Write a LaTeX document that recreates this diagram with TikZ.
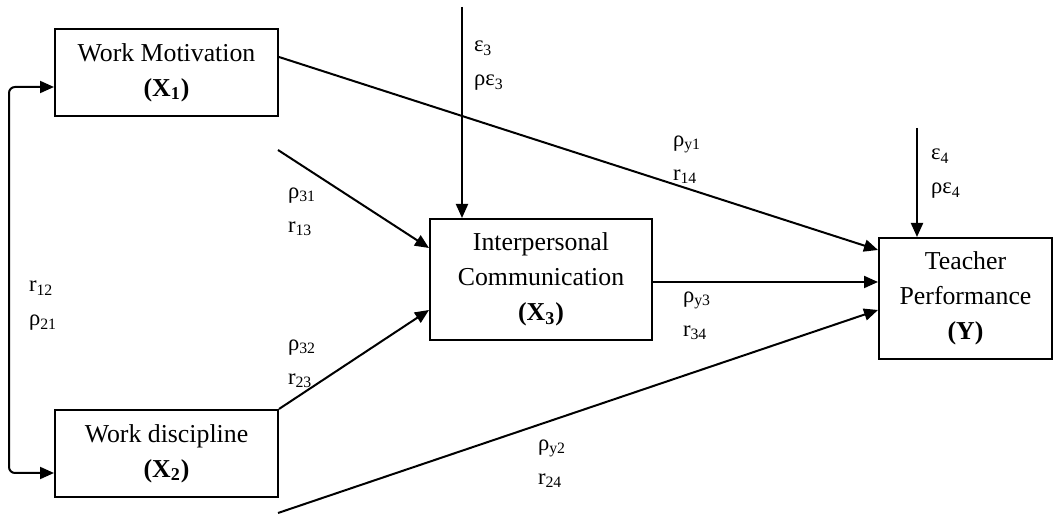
\documentclass[tikz,border=0pt]{standalone}
\usepackage{fontspec}
\setmainfont{Liberation Serif}
\usepackage{tikz}
\usetikzlibrary{arrows.meta}

\begin{document}
\begin{tikzpicture}[
            x = 0.5pt, y = -0.5pt, % one unit is one pixel of the layout
            > = {Triangle[length=7pt,width=6pt]}, % arrow head style
            line width = 1pt, % line style
            every node/.style = {font=\fontsize{12.9}{17.5}\selectfont}
        ]

        \tikzstyle{var}=[
            draw = black,
            line width = 1pt,
            align = center,
            inner sep = 0pt
        ]
        \tikzstyle{coef}=[
            anchor = west,
            align = left,
            inner sep = 0pt,
            font = \fontsize{11.3}{17}\selectfont
        ]

        \useasboundingbox (0,0) rectangle (1055,517);

        \node[var, minimum width=111.5pt, minimum height=43.5pt] (x1) at (166.5,72.5)
            {Work Motivation\\\textbf{(X\textsubscript{1})}};
        \node[var, minimum width=111.5pt, minimum height=43.5pt] (x2) at (166.5,453.5)
            {Work discipline\\\textbf{(X\textsubscript{2})}};
        \node[var, minimum width=111pt, minimum height=60.5pt] (x3) at (541,279.5)
            {Interpersonal\\Communication\\\textbf{(X\textsubscript{3})}};
        \node[var, minimum width=86.5pt, minimum height=60.5pt] (y) at (965.5,298.5)
            {Teacher\\Performance\\\textbf{(Y)}};

        \coordinate (e3) at (462,7);
        \coordinate (e4) at (917,128);
        \coordinate (f1) at (278,150);
        \coordinate (f2) at (278,513);

        \draw[<->, rounded corners=3pt] ([yshift=-7.25pt]x1.west) -- ++(-45,0)
            |- ([yshift=-9.75pt]x2.west);
        \draw[->] ([yshift=7.75pt]x1.east) -- ([yshift=24.25pt]y.west);
        \draw[->] (e3) -- (e3 |- x3.north);
        \draw[->] (e4) -- (e4 |- y.north);
        \draw[->] (f1) -- ([yshift=15.75pt]x3.west);
        \draw[->] (x2.north east) -- ([yshift=-15.25pt]x3.west);
        \draw[->] ([yshift=-1.25pt]x3.east) -- ([yshift=-1.25pt]x3.east -| y.west);
        \draw[->] (f2) -- ([yshift=-5.75pt]y.west);

        \node[coef] (l12) at (28,306) {r\textsubscript{12}\\ρ\textsubscript{21}};
        \node[coef] (le3) at (473,66) {ε\textsubscript{3}\\ρε\textsubscript{3}};
        \node[coef] (l31) at (287,212) {ρ\textsubscript{31}\\r\textsubscript{13}};
        \node[coef] (l32) at (287,364) {ρ\textsubscript{32}\\r\textsubscript{23}};
        \node[coef] (ly1) at (672,160) {ρ\textsubscript{y1}\\r\textsubscript{14}};
        \node[coef] (le4) at (930,174) {ε\textsubscript{4}\\ρε\textsubscript{4}};
        \node[coef] (ly3) at (682,316) {ρ\textsubscript{y3}\\r\textsubscript{34}};
        \node[coef] (ly2) at (537,464) {ρ\textsubscript{y2}\\r\textsubscript{24}};

  \end{tikzpicture}
\end{document}
